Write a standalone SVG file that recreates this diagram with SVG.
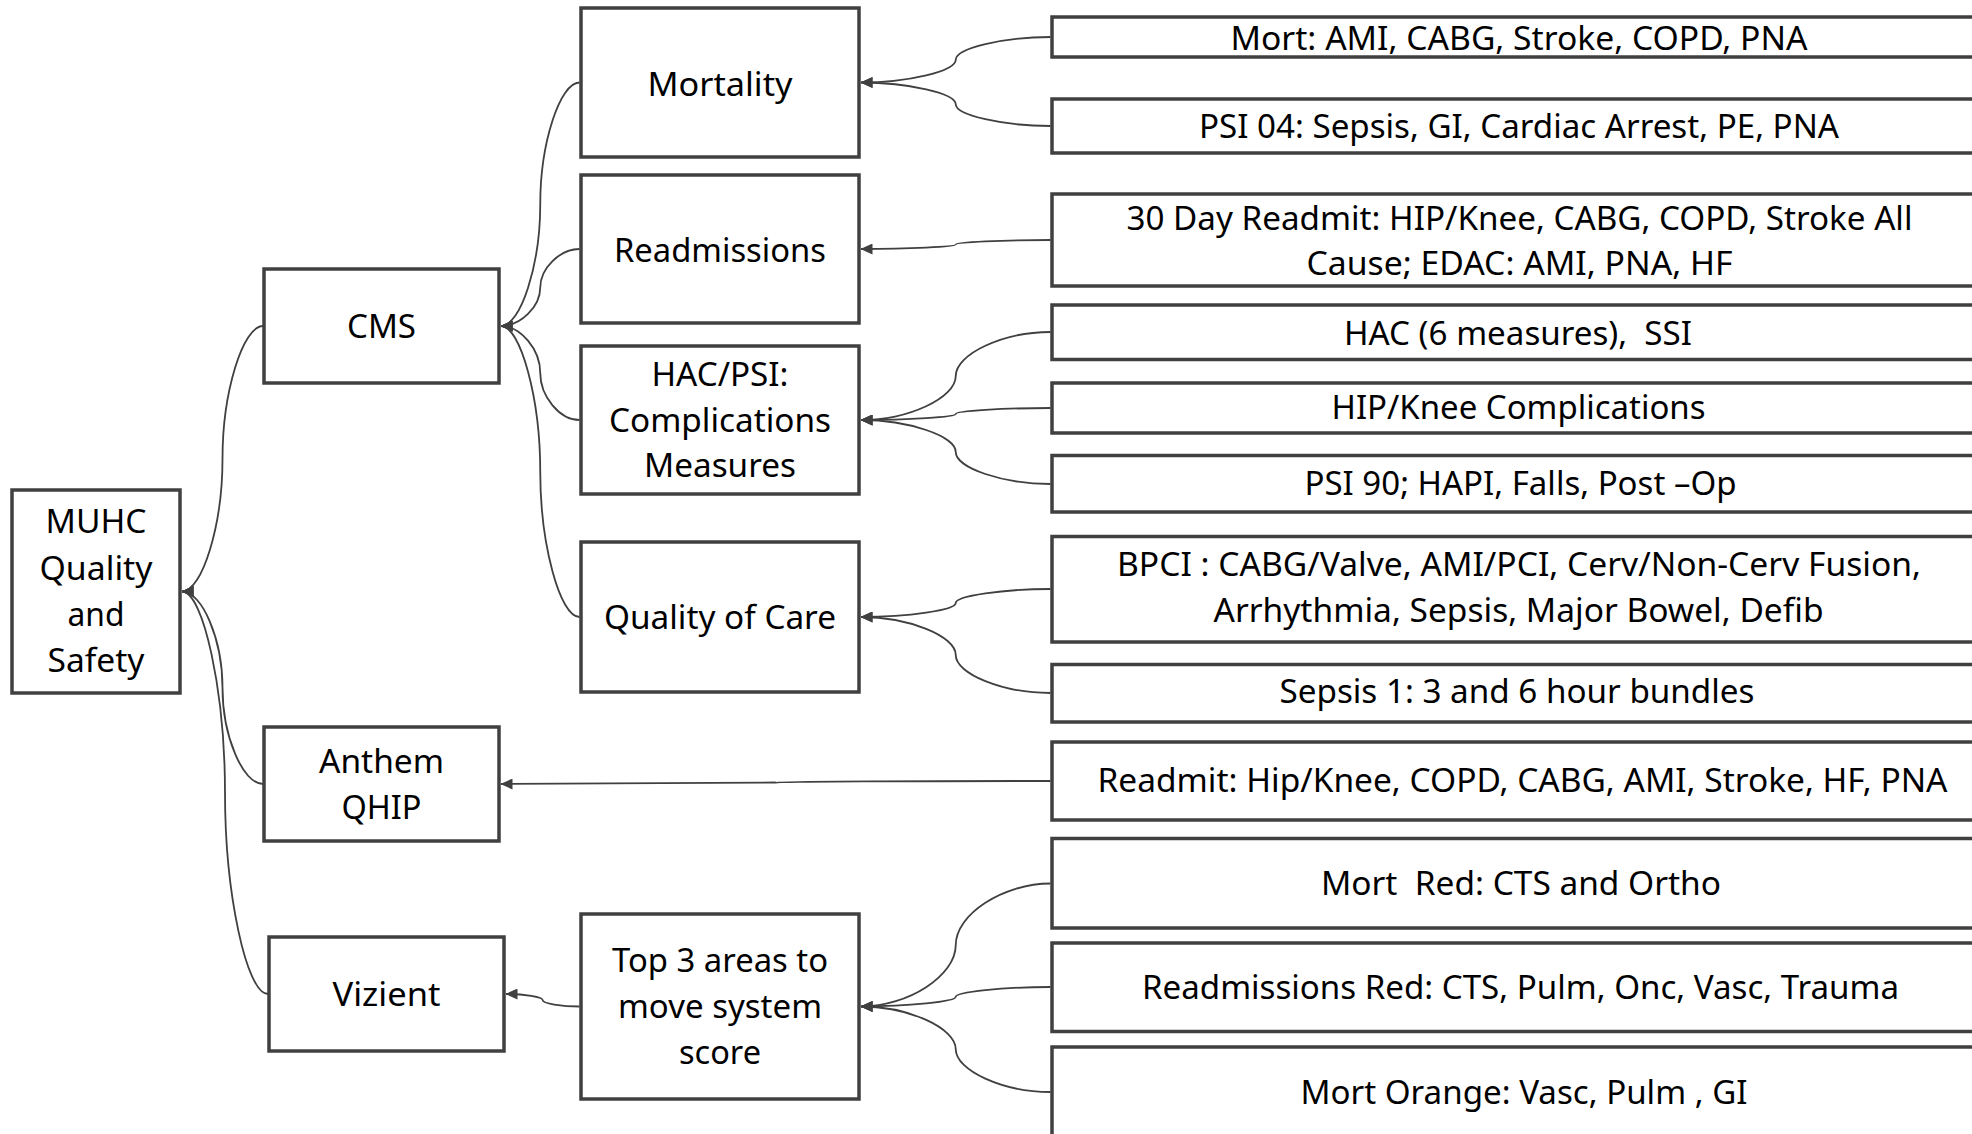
<svg xmlns="http://www.w3.org/2000/svg" width="1972" height="1134" viewBox="0 0 1972 1134">
<defs>
<marker id="ah" viewBox="0 0 12 11" refX="11.5" refY="5.5" markerWidth="12" markerHeight="11" markerUnits="userSpaceOnUse" orient="auto">
<path d="M0,0 L12,5.5 L0,11 z" fill="#404040"/>
</marker>
<style>
.box{fill:#fff;stroke:#404040;stroke-width:3.5}
.con{fill:none;stroke:#404040;stroke-width:1.8;marker-end:url(#ah)}
.t{font-family:"Noto Sans","Liberation Sans",sans-serif;font-size:32px;fill:#000;text-anchor:middle;white-space:pre}
</style>
</defs>
<rect width="1972" height="1134" fill="#fff"/>
<g id="connectors">
<path class="con" d="M263,326 C242.75,326 222.5,392.4 222.5,458.75 C222.5,525.1 202.25,591.5 182,591.5"/>
<path class="con" d="M263,784 C242.75,784 222.5,735.9 222.5,687.75 C222.5,639.6 202.25,591.5 182,591.5"/>
<path class="con" d="M268,994 C246.5,994 225,893.4 225,792.75 C225,692.1 203.5,591.5 182,591.5"/>
<path class="con" d="M579.5,82.5 C559.9,82.5 540.25,143.4 540.25,204.25 C540.25,265.1 520.6,326 501,326"/>
<path class="con" d="M579.5,249 C559.9,249 540.25,268.25 540.25,287.5 C540.25,306.75 520.6,326 501,326"/>
<path class="con" d="M579.5,420 C559.9,420 540.25,396.5 540.25,373 C540.25,349.5 520.6,326 501,326"/>
<path class="con" d="M579.5,617 C559.9,617 540.25,544.25 540.25,471.5 C540.25,398.75 520.6,326 501,326"/>
<path class="con" d="M1050.5,781 C913.1,781 775.75,781.75 775.75,782.5 C775.75,783.25 638.4,784 501,784"/>
<path class="con" d="M1050.5,37 C1003.1,37 955.75,48.4 955.75,59.75 C955.75,71.1 908.4,82.5 861,82.5"/>
<path class="con" d="M1050.5,126 C1003.1,126 955.75,115.1 955.75,104.25 C955.75,93.4 908.4,82.5 861,82.5"/>
<path class="con" d="M1050.5,240 C1003.1,240 955.75,242.25 955.75,244.5 C955.75,246.75 908.4,249 861,249"/>
<path class="con" d="M1050.5,332 C1003.1,332 955.75,354 955.75,376 C955.75,398 908.4,420 861,420"/>
<path class="con" d="M1050.5,408 C1003.1,408 955.75,411 955.75,414 C955.75,417 908.4,420 861,420"/>
<path class="con" d="M1050.5,484 C1003.1,484 955.75,468 955.75,452 C955.75,436 908.4,420 861,420"/>
<path class="con" d="M1050.5,589 C1003.1,589 955.75,596 955.75,603 C955.75,610 908.4,617 861,617"/>
<path class="con" d="M1050.5,693 C1003.1,693 955.75,674 955.75,655 C955.75,636 908.4,617 861,617"/>
<path class="con" d="M1050.5,883.5 C1003.1,883.5 955.75,914.25 955.75,945 C955.75,975.75 908.4,1006.5 861,1006.5"/>
<path class="con" d="M1050.5,987 C1003.1,987 955.75,991.9 955.75,996.75 C955.75,1001.6 908.4,1006.5 861,1006.5"/>
<path class="con" d="M1050.5,1092 C1003.1,1092 955.75,1070.6 955.75,1049.25 C955.75,1027.9 908.4,1006.5 861,1006.5"/>
<path class="con" d="M579.5,1006.5 C561.1,1006.5 542.75,1003.4 542.75,1000.25 C542.75,997.1 524.4,994 506,994"/>
</g>
<g id="muhc"><rect class="box" x="12" y="490" width="168" height="203"/>
<text class="t" x="96" y="533" textLength="101" lengthAdjust="spacingAndGlyphs">MUHC</text>
<text class="t" x="96" y="580" textLength="113" lengthAdjust="spacingAndGlyphs">Quality</text>
<text class="t" x="96" y="626" textLength="57" lengthAdjust="spacingAndGlyphs">and</text>
<text class="t" x="96" y="672" textLength="97" lengthAdjust="spacingAndGlyphs">Safety</text></g>
<g id="cms"><rect class="box" x="264" y="269" width="235" height="114"/>
<text class="t" x="381.5" y="338" textLength="69" lengthAdjust="spacingAndGlyphs">CMS</text></g>
<g id="anthem"><rect class="box" x="264" y="727" width="235" height="114"/>
<text class="t" x="381.5" y="773" textLength="125" lengthAdjust="spacingAndGlyphs">Anthem</text>
<text class="t" x="381.5" y="819" textLength="80" lengthAdjust="spacingAndGlyphs">QHIP</text></g>
<g id="vizient"><rect class="box" x="269" y="937" width="235" height="114"/>
<text class="t" x="386.5" y="1006" textLength="108" lengthAdjust="spacingAndGlyphs">Vizient</text></g>
<g id="mortality"><rect class="box" x="581" y="8" width="278" height="149"/>
<text class="t" x="720" y="95.5" textLength="145" lengthAdjust="spacingAndGlyphs">Mortality</text></g>
<g id="readmissions"><rect class="box" x="581" y="175" width="278" height="148"/>
<text class="t" x="720" y="261.5" textLength="212" lengthAdjust="spacingAndGlyphs">Readmissions</text></g>
<g id="hacpsi"><rect class="box" x="581" y="346" width="278" height="148"/>
<text class="t" x="720" y="386" textLength="137" lengthAdjust="spacingAndGlyphs">HAC/PSI:</text>
<text class="t" x="720" y="431.5" textLength="222" lengthAdjust="spacingAndGlyphs">Complications</text>
<text class="t" x="720" y="477" textLength="152" lengthAdjust="spacingAndGlyphs">Measures</text></g>
<g id="qoc"><rect class="box" x="581" y="542" width="278" height="150"/>
<text class="t" x="720" y="628.5" textLength="232" lengthAdjust="spacingAndGlyphs">Quality of Care</text></g>
<g id="top3"><rect class="box" x="581" y="914" width="278" height="185"/>
<text class="t" x="720" y="972" textLength="216" lengthAdjust="spacingAndGlyphs">Top 3 areas to</text>
<text class="t" x="720" y="1018" textLength="204" lengthAdjust="spacingAndGlyphs">move system</text>
<text class="t" x="720" y="1063.5" textLength="82" lengthAdjust="spacingAndGlyphs">score</text></g>
<g id="r-mort"><rect class="box" x="1052" y="17" width="940" height="40"/>
<text class="t" x="1519" y="50" textLength="577" lengthAdjust="spacingAndGlyphs">Mort: AMI, CABG, Stroke, COPD, PNA</text></g>
<g id="r-psi04"><rect class="box" x="1052" y="99" width="940" height="54"/>
<text class="t" x="1519" y="137.5" textLength="640" lengthAdjust="spacingAndGlyphs">PSI 04: Sepsis, GI, Cardiac Arrest, PE, PNA</text></g>
<g id="r-30day"><rect class="box" x="1052" y="194" width="940" height="92"/>
<text class="t" x="1519.5" y="230" textLength="786" lengthAdjust="spacingAndGlyphs">30 Day Readmit: HIP/Knee, CABG, COPD, Stroke All</text>
<text class="t" x="1519.5" y="275" textLength="426" lengthAdjust="spacingAndGlyphs">Cause; EDAC: AMI, PNA, HF</text></g>
<g id="r-hac"><rect class="box" x="1052" y="305" width="940" height="54.5"/>
<text class="t" x="1518" y="345" textLength="348" lengthAdjust="spacingAndGlyphs">HAC (6 measures),  SSI</text></g>
<g id="r-hip"><rect class="box" x="1052" y="383" width="940" height="50"/>
<text class="t" x="1518.5" y="418.5" textLength="374" lengthAdjust="spacingAndGlyphs">HIP/Knee Complications</text></g>
<g id="r-psi90"><rect class="box" x="1052" y="455.5" width="940" height="56.5"/>
<text class="t" x="1520.5" y="495" textLength="432" lengthAdjust="spacingAndGlyphs">PSI 90; HAPI, Falls, Post –Op</text></g>
<g id="r-bpci"><rect class="box" x="1052" y="536.5" width="940" height="105.5"/>
<text class="t" x="1519" y="576" textLength="804" lengthAdjust="spacingAndGlyphs">BPCI : CABG/Valve, AMI/PCI, Cerv/Non-Cerv Fusion,</text>
<text class="t" x="1518.5" y="621.5" textLength="610" lengthAdjust="spacingAndGlyphs">Arrhythmia, Sepsis, Major Bowel, Defib</text></g>
<g id="r-sepsis"><rect class="box" x="1052" y="664.5" width="940" height="57.5"/>
<text class="t" x="1517" y="703" textLength="475" lengthAdjust="spacingAndGlyphs">Sepsis 1: 3 and 6 hour bundles</text></g>
<g id="r-readmit"><rect class="box" x="1052" y="742" width="940" height="78"/>
<text class="t" x="1522.5" y="791.5" textLength="850" lengthAdjust="spacingAndGlyphs">Readmit: Hip/Knee, COPD, CABG, AMI, Stroke, HF, PNA</text></g>
<g id="r-mortred"><rect class="box" x="1052" y="838.5" width="940" height="89.5"/>
<text class="t" x="1521" y="895" textLength="400" lengthAdjust="spacingAndGlyphs">Mort  Red: CTS and Ortho</text></g>
<g id="r-readmred"><rect class="box" x="1052" y="943" width="940" height="88.5"/>
<text class="t" x="1520.5" y="998.5" textLength="757" lengthAdjust="spacingAndGlyphs">Readmissions Red: CTS, Pulm, Onc, Vasc, Trauma</text></g>
<g id="r-mortorange"><rect class="box" x="1052" y="1047" width="940" height="100"/>
<text class="t" x="1524" y="1104" textLength="447" lengthAdjust="spacingAndGlyphs">Mort Orange: Vasc, Pulm , GI</text></g>
</svg>
